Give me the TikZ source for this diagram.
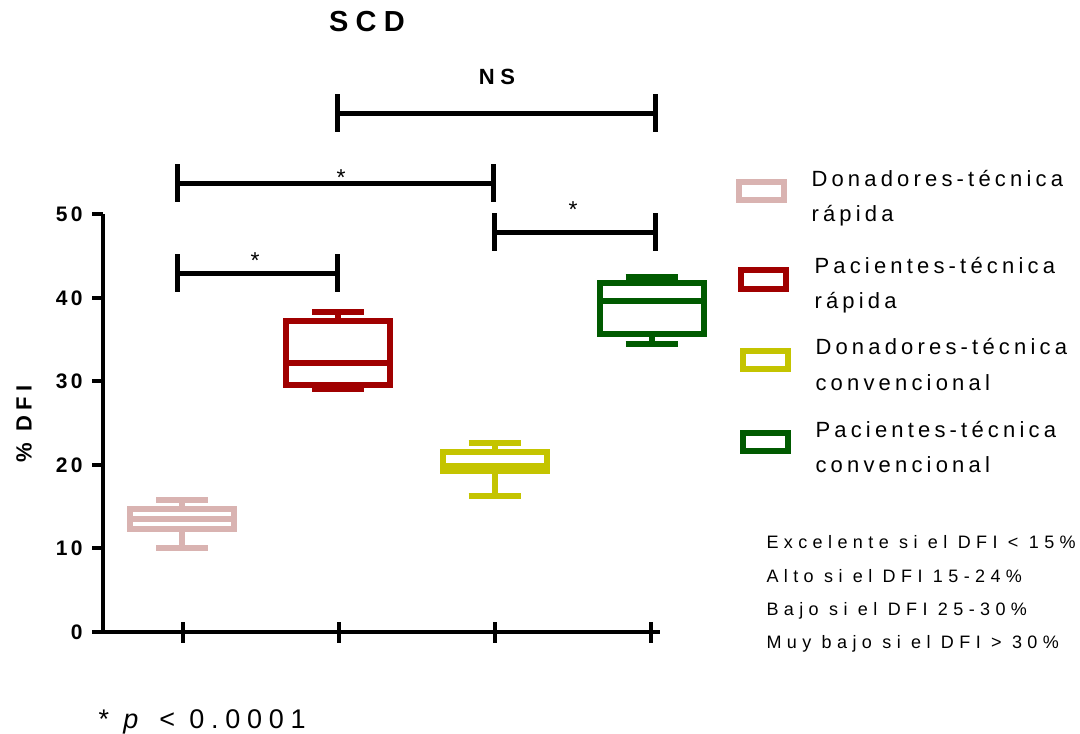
\documentclass[tikz,border=0pt]{standalone}
\usepackage{fontspec}
\setmainfont{Liberation Sans}
\newfontfamily\trk[LetterSpace=25]{Liberation Sans}
\newfontfamily\trkleg[LetterSpace=19]{Liberation Sans}
\newfontfamily\trknote[LetterSpace=30]{Liberation Sans}
\newfontfamily\trktick[LetterSpace=15]{Liberation Sans}
\definecolor{cpink}{RGB}{217,179,177}
\definecolor{cred}{RGB}{160,0,0}
\definecolor{cyel}{RGB}{196,196,0}
\definecolor{cgrn}{RGB}{0,90,0}

% box plot: colour, centre x, upper cap, box top, median, box bottom, lower cap
\newcommand{\bxplot}[7]{%
  \draw[#1, line width=6pt] (#2-52,#4) rectangle (#2+52,#6);
  \draw[#1, line width=6pt] (#2-52,#5) -- (#2+52,#5);
  \draw[#1, line width=6pt] (#2,#3) -- (#2,#4) (#2,#6) -- (#2,#7);
  \draw[#1, line width=6pt] (#2-26,#3) -- (#2+26,#3) (#2-26,#7) -- (#2+26,#7);
}
% significance bracket: left x, right x, y
\newcommand{\sigbr}[3]{%
  \draw[line width=5pt] (#1,#3-19) -- (#1,#3+19) (#1,#3) -- (#2,#3) (#2,#3-19) -- (#2,#3+19);
}

\begin{document}
\begin{tikzpicture}[x=1pt,y=-1pt,
  axisline/.style={line width=4pt},
  ticklab/.style={anchor=base east, font=\trktick\bfseries\fontsize{21}{24}\selectfont},
  legtxt/.style={anchor=base west, font=\trkleg\fontsize{22}{26}\selectfont},
  notetxt/.style={anchor=base west, font=\trknote\fontsize{18}{22}\selectfont},
  startxt/.style={font=\fontsize{23}{24}\selectfont}]
\useasboundingbox (0,0) rectangle (1080,734);

% title
\node[font=\trk\bfseries\fontsize{29}{32}\selectfont] (title) at (367,22) {SCD};

% axes
\draw[axisline] (103,214) -- (103,632) -- (660,632);
\draw[axisline] (92,632) -- (103,632);
\foreach \v/\y in {50/214,40/298,30/381,20/465,10/548,0/632}{
  \draw[axisline] (92,\y) -- (103,\y);
  \node[ticklab] at (86,\y+7.5) {\v};
}
\foreach \x in {183,339,495,651}{
  \draw[axisline] (\x,622) -- (\x,643);
}
\node[rotate=90, font=\trk\bfseries\fontsize{22}{26}\selectfont] (ylab) at (24,424) {\% DFI};

% boxes
\bxplot{cpink}{182}{500}{508.5}{518.5}{528.5}{548}
\bxplot{cred}{338}{311.5}{321}{363}{385}{389}
\bxplot{cyel}{494.5}{442.5}{452}{466}{471}{496}
\bxplot{cgrn}{651.5}{277}{283}{301}{334}{343.5}

% significance brackets
\sigbr{177}{337.5}{273}
\node[startxt] (s1) at (255,261) {*};
\sigbr{177}{493}{183}
\node[startxt] (s2) at (341,178) {*};
\sigbr{337}{655}{113}
\node[font=\trk\bfseries\fontsize{22}{26}\selectfont] (ns) at (497,77) {NS};
\sigbr{494}{655}{232}
\node[startxt] (s3) at (573,210) {*};

% legend
\draw[cpink, line width=6pt] (739,182) rectangle (784,200);
\draw[cred, line width=6pt] (741,270) rectangle (786,289);
\draw[cyel, line width=6pt] (743,351) rectangle (788,369);
\draw[cgrn, line width=6pt] (743,433) rectangle (788,451);
\node[legtxt] (l1a) at (808,186) {Donadores-técnica};
\node[legtxt] (l1b) at (808,221) {rápida};
\node[legtxt] (l2a) at (811,273) {Pacientes-técnica};
\node[legtxt] (l2b) at (811,308) {rápida};
\node[legtxt] (l3a) at (812,354) {Donadores-técnica};
\node[legtxt] (l3b) at (812,390) {convencional};
\node[legtxt] (l4a) at (812,437) {Pacientes-técnica};
\node[legtxt] (l4b) at (812,472) {convencional};

% DFI ranges
\node[notetxt] (n1) at (763,548) {Excelente si el DFI < 15\%};
\node[notetxt] (n2) at (763,582) {Alto si el DFI 15-24\%};
\node[notetxt] (n3) at (763,615) {Bajo si el DFI 25-30\%};
\node[notetxt] (n4) at (763,648) {Muy bajo si el DFI > 30\%};

% p value
\node[anchor=base west, font=\trk\fontsize{27}{30}\selectfont] (pv) at (95,728) {* \textit{p} < 0.0001};
\end{tikzpicture}
\end{document}
